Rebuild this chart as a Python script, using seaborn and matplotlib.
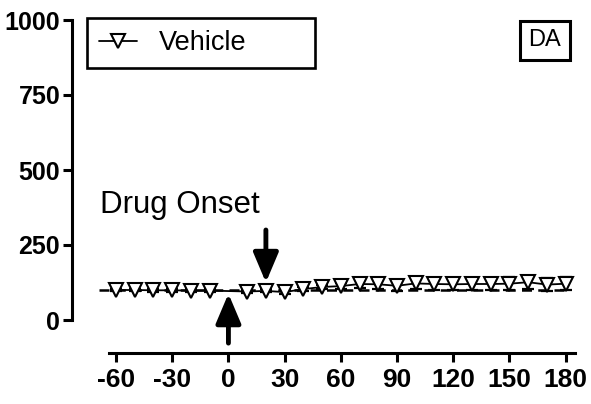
import numpy as np
import pandas as pd
import seaborn as sns
from matplotlib import pyplot as plt

# time (min) relative to drug onset, DA (% baseline), SEM
time = [-60, -50, -40, -30, -20, -10, 10, 20, 30, 40, 50, 60,
        70, 80, 90, 100, 110, 120, 130, 140, 150, 160, 170, 180]
da_vehicle = [100, 100, 99, 99, 98, 98, 95, 97, 93, 103, 110, 113,
              120, 119, 114, 122, 120, 119, 120, 120, 121, 126, 118, 121]
sem_vehicle = [4, 4, 4, 4, 4, 4, 5, 5, 6, 7, 8, 10,
               14, 14, 16, 18, 19, 20, 20, 21, 21, 22, 22, 22]

x_ticks = [-60, -30, 0, 30, 60, 90, 120, 150, 180]
y_ticks = [0, 250, 500, 750, 1000]
baseline = 100

df = pd.DataFrame({"time": time, "da": da_vehicle, "sem": sem_vehicle})

sns.set_style("ticks")
plt.rcParams["font.family"] = ["Liberation Sans", "DejaVu Sans"]
plt.rcParams.update({"text.color": "black", "xtick.color": "black",
                     "ytick.color": "black", "axes.labelcolor": "black",
                     "axes.unicode_minus": False})

fig = plt.figure(figsize=(5.91, 4.04), dpi=100)
ax = fig.add_axes([72 / 591, 51 / 404, 503 / 591, 333 / 404])

# baseline dashed line
ax.plot([-69, 182], [baseline, baseline], color="black", lw=1.8,
        ls=(0, (4, 2.5)), zorder=1)

ax.errorbar(df["time"], df["da"], yerr=df["sem"], fmt="none", ecolor="black",
            elinewidth=1.6, capsize=4.5, capthick=1.6, zorder=2)
sns.lineplot(data=df, x="time", y="da", ax=ax, color="black", lw=1.3,
             marker="v", markersize=9.5, markerfacecolor="white",
             markeredgecolor="black", markeredgewidth=1.5,
             label="Vehicle", zorder=3)

# drug onset arrows
arrow = dict(arrowstyle="-|>,head_length=0.9,head_width=0.38", lw=3.5,
             color="black", mutation_scale=20, shrinkA=0, shrinkB=0)
ax.annotate("", xy=(0, 88), xytext=(0, -77), arrowprops=arrow)
ax.annotate("", xy=(20, 125), xytext=(20, 300), arrowprops=arrow)
ax.text(-68.5, 357, "Drug Onset", fontsize=22.5, ha="left", va="baseline")

ax.set_xlim(-83.5, 185)
ax.set_ylim(-110, 1000)
ax.set_xticks(x_ticks)
ax.set_yticks(y_ticks)
ax.set_xlabel("")
ax.set_ylabel("")
sns.despine(ax=ax)
ax.spines["left"].set_bounds(0, 1000)
ax.spines["bottom"].set_bounds(-64, 185)
for s in ["left", "bottom"]:
    ax.spines[s].set_linewidth(2.2)
    ax.spines[s].set_color("black")
ax.tick_params(axis="both", width=2.2, length=6.5, color="black")
ax.tick_params(axis="y", labelsize=18, pad=2)
ax.tick_params(axis="x", labelsize=19, pad=4)
for lab in ax.get_xticklabels() + ax.get_yticklabels():
    lab.set_fontweight("bold")

leg = ax.legend(loc="upper left",
                bbox_to_anchor=(87 / 591, 0.5, 228 / 591, 386 / 404 - 0.5),
                bbox_transform=fig.transFigure, mode="expand", fontsize=19.5,
                frameon=True, fancybox=False, borderpad=0.45, handlelength=1.4,
                handletextpad=0.8, borderaxespad=0)
leg.get_frame().set_edgecolor("black")
leg.get_frame().set_linewidth(1.9)
leg.get_frame().set_alpha(1)

fig.text(545 / 591, (404 - 40.5) / 404, "DA", fontsize=17, ha="center", va="center",
         bbox=dict(boxstyle="square,pad=0.35", fc="white", ec="black", lw=2.2))

fig.savefig("out.png", dpi=100)
